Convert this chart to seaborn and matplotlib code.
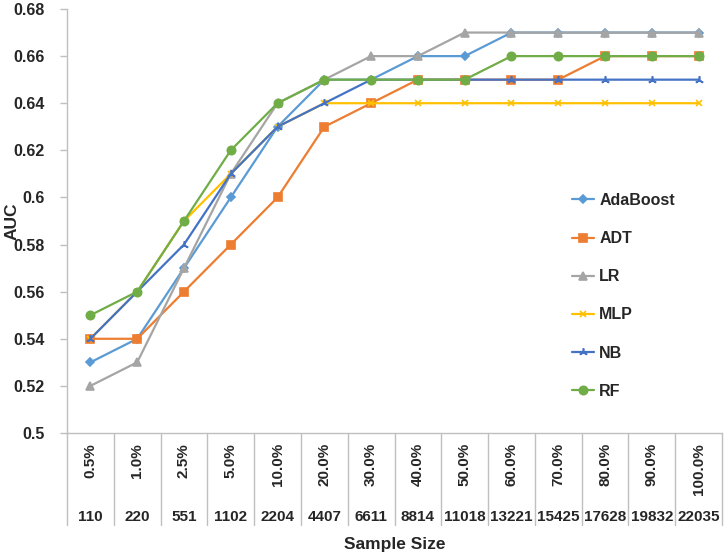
import numpy as np
import matplotlib
matplotlib.use('Agg')
import matplotlib.pyplot as plt
import matplotlib.transforms as mtransforms
import seaborn as sns

# Chart data
percent_labels = ['0.5%', '1.0%', '2.5%', '5.0%', '10.0%', '20.0%', '30.0%',
                  '40.0%', '50.0%', '60.0%', '70.0%', '80.0%', '90.0%', '100.0%']
sample_sizes = ['110', '220', '551', '1102', '2204', '4407', '6611',
                '8814', '11018', '13221', '15425', '17628', '19832', '22035']
models = ['AdaBoost', 'ADT', 'LR', 'MLP', 'NB', 'RF']

adaboost = [0.53, 0.54, 0.57, 0.60, 0.63, 0.65, 0.65, 0.66, 0.66, 0.67, 0.67, 0.67, 0.67, 0.67]
adt = [0.54, 0.54, 0.56, 0.58, 0.60, 0.63, 0.64, 0.65, 0.65, 0.65, 0.65, 0.66, 0.66, 0.66]
lr = [0.52, 0.53, 0.57, 0.61, 0.64, 0.65, 0.66, 0.66, 0.67, 0.67, 0.67, 0.67, 0.67, 0.67]
mlp = [0.54, 0.56, 0.59, 0.61, 0.63, 0.64, 0.64, 0.64, 0.64, 0.64, 0.64, 0.64, 0.64, 0.64]
nb = [0.54, 0.56, 0.58, 0.61, 0.63, 0.64, 0.65, 0.65, 0.65, 0.65, 0.65, 0.65, 0.65, 0.65]
rf = [0.55, 0.56, 0.59, 0.62, 0.64, 0.65, 0.65, 0.65, 0.65, 0.66, 0.66, 0.66, 0.66, 0.66]
series = [adaboost, adt, lr, mlp, nb, rf]

y_ticks = [0.5, 0.52, 0.54, 0.56, 0.58, 0.6, 0.62, 0.64, 0.66, 0.68]

# Excel-like styling
colors = ['#5B9BD5', '#ED7D31', '#A5A5A5', '#FFC000', '#4472C4', '#70AD47']
markers = ['D', 's', '^', 'x', (3, 2, 0), 'o']
msizes = [4.5, 6, 6, 5, 6, 6]
axis_gray = '#BFBFBF'

sns.set_style('white')
plt.rcParams['font.family'] = ['Liberation Sans', 'DejaVu Sans']
plt.rcParams['font.weight'] = 'bold'

fig = plt.figure(figsize=(7.25, 5.54), dpi=100)
ax = fig.add_axes([67 / 725, 1 - 433 / 554, (722 - 67) / 725, (433 - 9) / 554])

pos = np.arange(len(percent_labels))
for name, vals, c, m, ms in zip(models, series, colors, markers, msizes):
    sns.lineplot(x=pos, y=vals, ax=ax, color=c, marker=m, markersize=ms,
                 markeredgecolor=c, markerfacecolor=c, markeredgewidth=1.2,
                 linewidth=1.6, label=name)

ax.set_xlim(-0.5, len(pos) - 0.5)
ax.set_ylim(0.5, 0.68)
ax.set_yticks(y_ticks)
ax.set_yticklabels([f'{t:g}' for t in y_ticks], fontsize=11.5, fontweight='bold')
ax.set_xticks([])
ax.set_xlabel('')
ax.set_ylabel('')

for s in ['top', 'right']:
    ax.spines[s].set_visible(False)
for s in ['left', 'bottom']:
    ax.spines[s].set_color(axis_gray)
    ax.spines[s].set_linewidth(1)
ax.tick_params(axis='y', which='both', left=True, length=5, width=1,
               color=axis_gray, pad=11)

# Two-row category table under the axis
trans = mtransforms.blended_transform_factory(ax.transData, ax.transAxes)
sep_bottom = -92 / 424
for k in range(len(pos) + 1):
    ax.plot([k - 0.5, k - 0.5], [0, sep_bottom], transform=trans,
            color=axis_gray, lw=1, clip_on=False)
for p, pl, ss in zip(pos, percent_labels, sample_sizes):
    ax.text(p, -10 / 424, pl, transform=trans, rotation=90, ha='center',
            va='top', fontsize=11, fontweight='bold')
    ax.text(p, -84 / 424, ss, transform=trans, ha='center', va='center',
            fontsize=11, fontweight='bold')

fig.text((67 + 722) / 2 / 725, 1 - 544 / 554, 'Sample Size', ha='center',
         va='center', fontsize=12.5, fontweight='bold')
fig.text(12 / 725, 1 - 221 / 554, 'AUC', rotation=90, ha='center',
         va='center', fontsize=12.5, fontweight='bold')

leg = ax.legend(loc='upper left', bbox_to_anchor=(572 / 725, 1 - 193 / 554),
                bbox_transform=fig.transFigure, frameon=False, borderpad=0,
                borderaxespad=0, handlelength=1.4, handletextpad=0.3,
                labelspacing=1.45, prop={'size': 11.5, 'weight': 'bold'})

fig.savefig('out.png', dpi=100)
